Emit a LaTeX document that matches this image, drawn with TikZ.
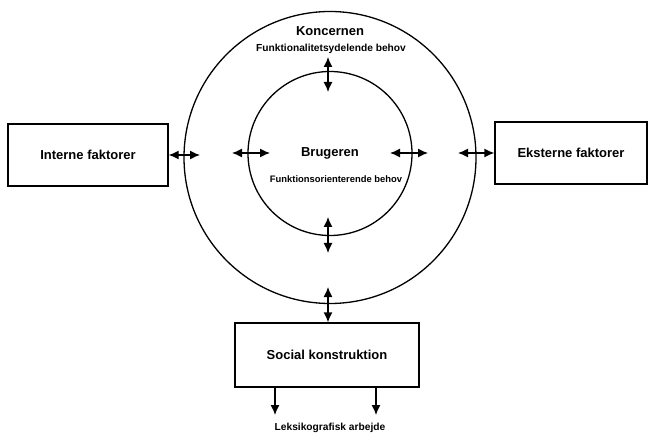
\documentclass[tikz,border=0pt]{standalone}
\usepackage{fontspec}
\setmainfont{Liberation Sans}
\usetikzlibrary{arrows.meta}
\tikzset{
  ring/.style={draw, circle, line width=1.3pt, inner sep=0pt},
  factorbox/.style={draw, rectangle, line width=1.3pt, inner sep=0pt},
  bigtext/.style={font=\bfseries\fontsize{13}{15}\selectfont, inner sep=0pt},
  smalltext/.style={font=\bfseries\fontsize{10.2}{12}\selectfont, inner sep=0pt},
  twoway/.style={line width=1.3pt, {Latex[length=10pt,width=9pt]}-{Latex[length=10pt,width=9pt]}},
  oneway/.style={line width=1.3pt, -{Latex[length=10pt,width=9pt]}}
}
\begin{document}
\begin{tikzpicture}[x=1pt,y=-1pt]
\useasboundingbox (0,0) rectangle (652,435);
\node[ring, minimum size=292pt] (outer) at (330,157.5) {};
\node[ring, minimum size=164pt] (inner) at (330,153.5) {};
\node[factorbox, minimum width=160pt, minimum height=62pt] (intern) at (88,155) {};
\node[bigtext] (interntext) at (88,155) {Interne faktorer};
\node[factorbox, minimum width=152pt, minimum height=62pt] (ekstern) at (571,153) {};
\node[bigtext] (eksterntext) at (571,153) {Eksterne faktorer};
\node[factorbox, minimum width=184pt, minimum height=64pt] (social) at (327,355) {};
\node[bigtext] (socialtext) at (327,355) {Social konstruktion};
\node[bigtext] (koncern) at (330,31) {Koncernen};
\node[smalltext] (kbehov) at (331,49) {Funktionalitetsydelende behov};
\node[bigtext] (bruger) at (330,153) {Brugeren};
\node[smalltext, font=\bfseries\fontsize{9.4}{11}\selectfont] (bbehov) at (336,179) {Funktionsorienterende behov};
\node[smalltext] (leks) at (330,428) {Leksikografisk arbejde};
% arrow ends
\coordinate (a1) at (200,155);
\coordinate (a2) at (458,153);
\coordinate (b1) at (232,153);
\coordinate (b2) at (270,153);
\coordinate (c1) at (390,153);
\coordinate (c2) at (428,153);
\coordinate (d1) at (328,57);
\coordinate (d2) at (328,92);
\coordinate (e1) at (328,217);
\coordinate (e2) at (328,253);
\coordinate (f1) at (328,287);
\coordinate (g1) at (275,415);
\coordinate (g2) at (376,415);
\draw[twoway] (intern.east) -- (a1);
\draw[twoway] (a2) -- (ekstern.west);
\draw[twoway] (b1) -- (b2);
\draw[twoway] (c1) -- (c2);
\draw[twoway] (d1) -- (d2);
\draw[twoway] (e1) -- (e2);
\draw[twoway] (f1) -- (social.north -| f1);
\draw[oneway] (social.south -| g1) -- (g1);
\draw[oneway] (social.south -| g2) -- (g2);
\end{tikzpicture}
\end{document}
